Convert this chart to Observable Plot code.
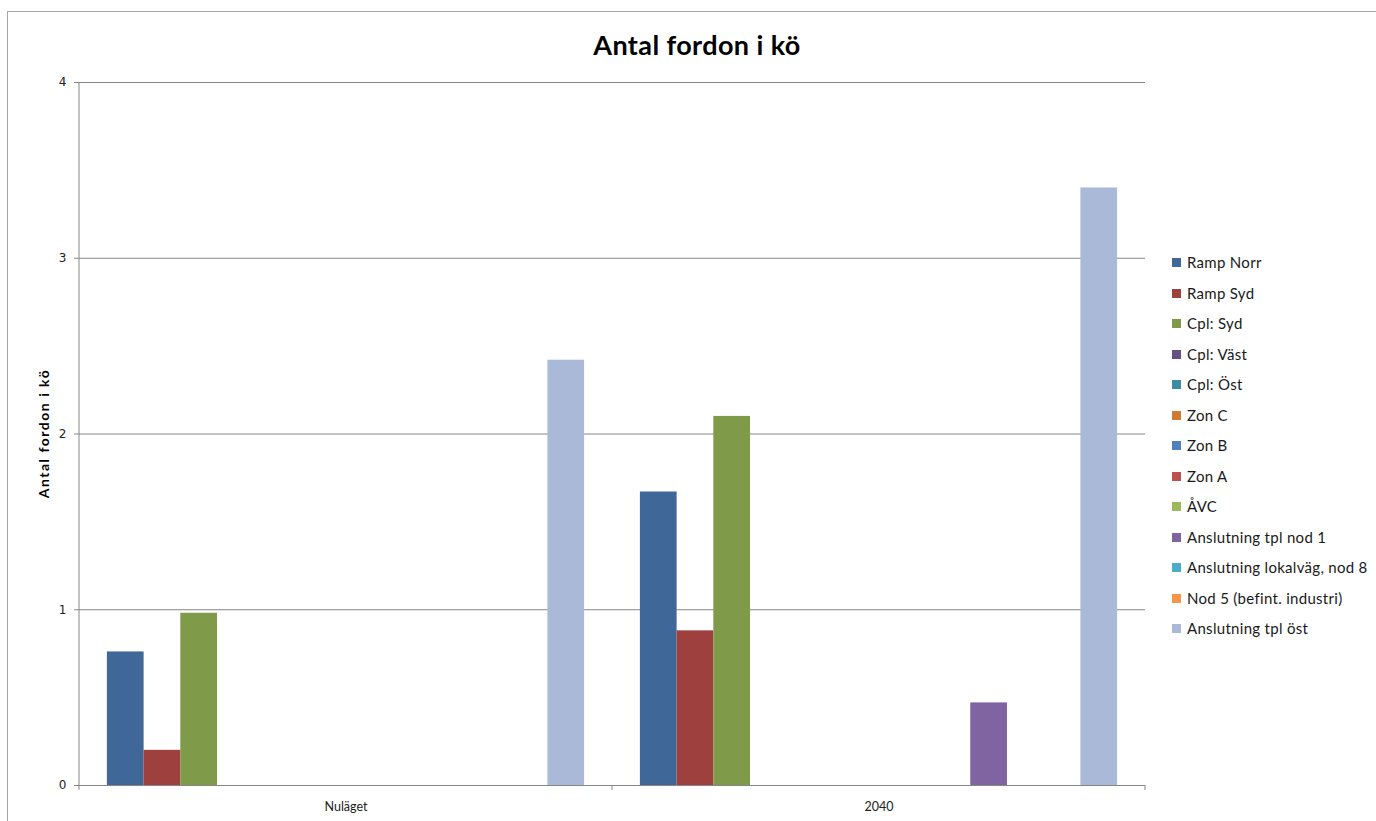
<!DOCTYPE html>
<html>
<head>
<meta charset="utf-8">
<script src="https://cdn.jsdelivr.net/npm/d3@7"></script>
<script src="https://cdn.jsdelivr.net/npm/@observablehq/plot@0.6"></script>
<style>
  html, body { margin: 0; padding: 0; background: #fff; overflow: hidden; }
  #wrap { position: relative; width: 1376px; height: 821px; }
  #border { position: absolute; left: 7px; top: 11px; width: 1400px; height: 900px; border: 1px solid #a6a6a6; box-sizing: border-box; }
  #title { position: absolute; left: 0; width: 1394px; top: 28px; line-height: 1; text-align: center; font: bold 27px Lato, "Open Sans", sans-serif; letter-spacing: 0.4px; color: #000; }
  #chart { position: absolute; left: 0; top: 0; }
  #legend { position: absolute; left: 1172px; top: 253px; font: 15px Lato, "Open Sans", sans-serif; letter-spacing: 0.3px; color: #1a1a1a; }
  .item { height: 30.5px; display: flex; align-items: flex-start; white-space: nowrap; }
  .sw { width: 9px; height: 9px; margin-right: 6px; margin-top: 5px; flex: none; }
</style>
</head>
<body>
<div id="wrap">
  <div id="border"></div>
  <div id="chart"></div>
  <div id="title">Antal fordon i kö</div>
  <div id="legend"></div>
</div>
<script>
const groups = ["Nuläget", "2040"];
const series = [
  "Ramp Norr", "Ramp Syd", "Cpl: Syd", "Cpl: Väst", "Cpl: Öst", "Zon C", "Zon B",
  "Zon A", "ÅVC", "Anslutning tpl nod 1", "Anslutning lokalväg, nod 8",
  "Nod 5 (befint. industri)", "Anslutning tpl öst"
];
const valuesNulaget = [0.76, 0.2, 0.98, 0, 0, 0, 0, 0, 0, 0, 0, 0, 2.42];
const values2040   = [1.67, 0.88, 2.1, 0, 0, 0, 0, 0, 0, 0.47, 0, 0, 3.4];
const colors = [
  "#3f6797", "#9e413e", "#7f9a48", "#664f82", "#3a8da3", "#d17a32", "#4f81bd",
  "#c0504d", "#9bbb59", "#8064a2", "#4bacc6", "#f79646", "#aab9d7"
];
const yTicks = [0, 1, 2, 3, 4];
const yTitle = "Antal fordon i kö";

const data = [];
groups.forEach((g, gi) => {
  const vals = gi === 0 ? valuesNulaget : values2040;
  series.forEach((s, i) => data.push({group: g, series: s, value: vals[i]}));
});

const axisColor = "#868686";

const plot = Plot.plot({
  width: 1376,
  height: 821,
  marginLeft: 79,
  marginRight: 231,
  marginTop: 82,
  marginBottom: 36,
  style: {background: "transparent", fontFamily: "Lato, 'Open Sans', sans-serif"},
  fx: {domain: groups, padding: 0, round: false, label: null, axis: null},
  x: {domain: series, paddingInner: 0, paddingOuter: 0.76, round: false, axis: null},
  y: {domain: [0, 4], axis: null},
  color: {domain: series, range: colors},
  marks: [
    Plot.gridY(yTicks.filter(d => d > 0), {stroke: axisColor, strokeOpacity: 1, strokeWidth: 1}),
    Plot.barY(data, {fx: "group", x: "series", y: "value", fill: "series"}),
    Plot.ruleY([0], {stroke: axisColor, strokeWidth: 1}),
    Plot.axisY({ticks: yTicks, tickSize: 5, tickPadding: 8, stroke: axisColor, label: null,
      tickFormat: d3.format("d"), fontSize: 12, fill: "#222", fontFamily: "'DejaVu Sans', Verdana, sans-serif"}),
    Plot.axisFx({anchor: "bottom", tickSize: 0, tickPadding: 17, label: null, fontSize: 12.5, fill: "#222"})
  ]
});

document.getElementById("chart").appendChild(plot);

// axis line and category boundary ticks, drawn from the plot's own scales
const svg = d3.select(plot);
const y = plot.scale("y");
const fx = plot.scale("fx");
const y0 = y.apply(0), y4 = y.apply(4);
const left = fx.apply(groups[0]);
const bw = fx.bandwidth;
svg.append("line")
  .attr("x1", left).attr("x2", left).attr("y1", y4).attr("y2", y0 + 0.5)
  .attr("stroke", axisColor);
const bounds = groups.map(g => fx.apply(g)).concat([fx.apply(groups[groups.length - 1]) + bw]);
bounds.forEach(b => {
  svg.append("line").attr("x1", b).attr("x2", b).attr("y1", y0).attr("y2", y0 + 5).attr("stroke", axisColor);
});
// y axis title
svg.append("text")
  .attr("transform", `translate(49,${(y0 + y4) / 2}) rotate(-90)`)
  .attr("text-anchor", "middle")
  .attr("font-weight", "bold")
  .attr("font-size", 14)
  .attr("letter-spacing", "1.5px")
  .attr("font-family", "Lato, 'Open Sans', sans-serif")
  .attr("fill", "#000")
  .text(yTitle);

// legend
const legend = d3.select("#legend");
series.forEach((s, i) => {
  const it = legend.append("div").attr("class", "item");
  it.append("div").attr("class", "sw").style("background", colors[i]);
  it.append("span").text(s);
});
</script>
</body>
</html>
